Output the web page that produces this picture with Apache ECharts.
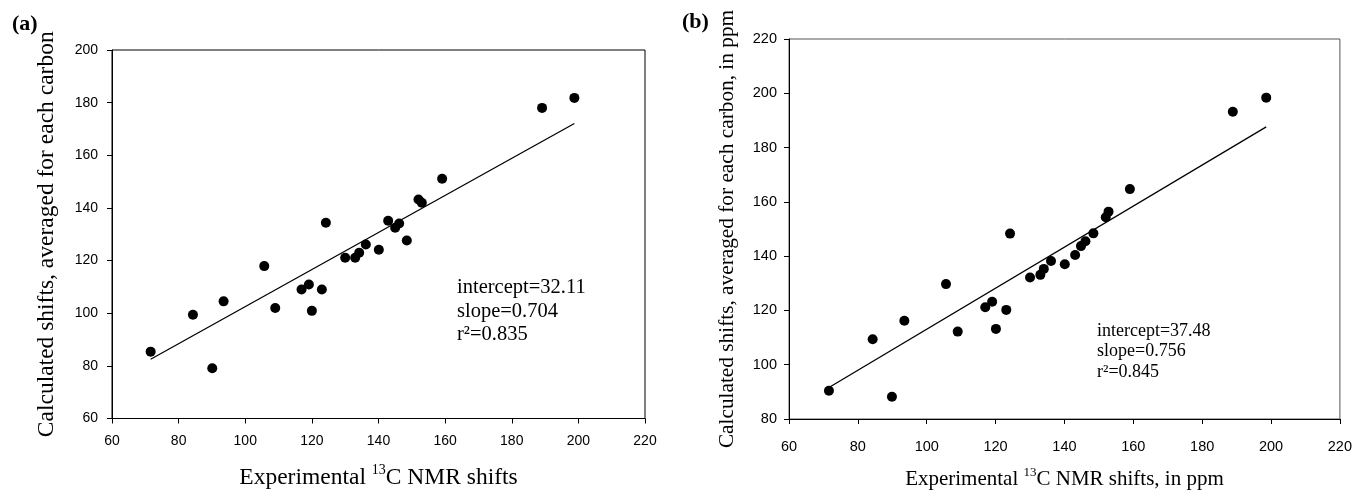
<!DOCTYPE html>
<html>
<head>
<meta charset="utf-8">
<script src="https://cdn.jsdelivr.net/npm/echarts@6/dist/echarts.min.js"></script>
<style>
html,body{margin:0;padding:0;background:#fff;}
#chart{width:1355px;height:495px;}
</style>
</head>
<body>
<div id="chart"></div>
<script>
// ---- data ----
const expA = [71.6, 84.3, 90.1, 93.5, 105.7, 109.0, 116.9, 119.1, 120.0, 123.0, 124.2, 130.0, 133.0, 134.2, 136.2, 140.1, 142.9, 145.0, 146.2, 148.5, 152.0, 153.0, 159.1, 189.1, 198.8];
const calcA = [85.4, 99.4, 79.1, 104.5, 117.9, 102.0, 109.0, 110.9, 100.9, 109.0, 134.4, 121.1, 121.1, 123.0, 126.1, 124.1, 135.1, 132.5, 134.1, 127.6, 143.2, 142.0, 151.1, 178.0, 181.8];
const expB = [71.6, 84.3, 89.9, 93.5, 105.6, 109.0, 117.0, 119.0, 120.1, 123.1, 124.2, 130.0, 133.0, 134.0, 136.1, 140.1, 143.1, 144.8, 146.1, 148.4, 152.0, 152.8, 159.0, 188.9, 198.6];
const calcB = [90.4, 109.4, 88.2, 116.2, 129.7, 112.2, 121.2, 123.2, 113.2, 120.2, 148.3, 132.1, 133.1, 135.3, 138.2, 137.0, 140.4, 143.7, 145.5, 148.4, 154.3, 156.4, 164.7, 193.2, 198.4];
const fitA = {intercept: 32.11, slope: 0.704, r2: 0.835};
const fitB = {intercept: 37.48, slope: 0.756, r2: 0.845};
const xTicks = [60, 80, 100, 120, 140, 160, 180, 200, 220];
const yTicksA = [60, 80, 100, 120, 140, 160, 180, 200];
const yTicksB = [80, 100, 120, 140, 160, 180, 200, 220];

function pairs(xs, ys){ return xs.map((x,i)=>[x, ys[i]]); }
function fitLine(xs, fit){
  const lo = Math.min(...xs), hi = Math.max(...xs);
  return [[lo, fit.intercept + fit.slope*lo],[hi, fit.intercept + fit.slope*hi]];
}

const serif = 'Liberation Serif';
const sans = 'Liberation Sans';

function xAxis(gridIndex, name, gap, fs, sfs, lfs, lm){
  return {
    type:'value', gridIndex, min: xTicks[0], max: xTicks[xTicks.length-1], interval: 20,
    axisLine:{show:true, lineStyle:{color:'#000', width:1}},
    axisTick:{show:true, inside:false, length:5, lineStyle:{color:'#000'}},
    axisLabel:{color:'#000', fontFamily:sans, fontSize:lfs, margin:lm},
    splitLine:{show:false},
    name, nameLocation:'middle', nameGap:gap,
    nameTextStyle:{
      color:'#000',
      rich:{
        t:{fontFamily:serif, fontSize:fs, color:'#000', lineHeight:fs+3, verticalAlign:'bottom'},
        s:{fontFamily:serif, fontSize:sfs, color:'#000', lineHeight:fs+3, verticalAlign:'top'}
      }
    }
  };
}
function yAxis(gridIndex, ticks, name, gap, fs, lfs, lm){
  return {
    type:'value', gridIndex, min: ticks[0], max: ticks[ticks.length-1], interval: 20,
    axisLine:{show:true, lineStyle:{color:'#000', width:1}},
    axisTick:{show:true, inside:false, length:5, lineStyle:{color:'#000'}},
    axisLabel:{color:'#000', fontFamily:sans, fontSize:lfs, margin:lm},
    splitLine:{show:false},
    name, nameLocation:'middle', nameGap:gap,
    nameTextStyle:{color:'#000', fontFamily:serif, fontSize:fs}
  };
}

const chart = echarts.init(document.getElementById('chart'), null, {renderer:'canvas'});
chart.setOption({
  backgroundColor:'#fff',
  animation:false,
  grid:[
    {left:112, top:50, width:533, height:374, show:true, borderColor:'#000', borderWidth:1, backgroundColor:'transparent'},
    {left:789, top:39, width:552, height:387, show:true, borderColor:'#555', borderWidth:1, backgroundColor:'transparent'}
  ],
  xAxis:[
    xAxis(0, '{t|Experimental }{s|13}{t|C NMR shifts}', 45, 23.5, 14, 14, 16),
    xAxis(1, '{t|Experimental }{s|13}{t|C NMR shifts, in ppm}', 47, 21, 13, 14.5, 20)
  ],
  yAxis:[
    yAxis(0, yTicksA, 'Calculated shifts, averaged for each carbon', 53, 23.5, 14, 14),
    yAxis(1, yTicksB, 'Calculated shifts, averaged for each carbon, in ppm', 51, 21.3, 14.5, 12)
  ],
  graphic:[
    {type:'text', left:12, top:13, style:{text:'(a)', font:'bold 22px "Liberation Serif"', fill:'#000'}},
    {type:'text', left:682, top:11, style:{text:'(b)', font:'bold 22px "Liberation Serif"', fill:'#000'}},
    {type:'text', left:457, top:276, style:{
      text:'intercept=' + fitA.intercept.toFixed(2) + '\nslope=' + fitA.slope.toFixed(3) + '\nr\u00b2=' + fitA.r2.toFixed(3),
      font:'20.5px "Liberation Serif"', lineHeight:23.5, fill:'#000'}},
    {type:'text', left:1097, top:321, style:{
      text:'intercept=' + fitB.intercept.toFixed(2) + '\nslope=' + fitB.slope.toFixed(3) + '\nr\u00b2=' + fitB.r2.toFixed(3),
      font:'18px "Liberation Serif"', lineHeight:20.5, fill:'#000'}}
  ],
  series:[
    {type:'scatter', xAxisIndex:0, yAxisIndex:0, data:pairs(expA, calcA), symbol:'circle', symbolSize:10, itemStyle:{color:'#000', opacity:1}},
    {type:'line', xAxisIndex:0, yAxisIndex:0, data:fitLine(expA, fitA), showSymbol:false, symbol:'none', lineStyle:{color:'#000', width:1.3}},
    {type:'scatter', xAxisIndex:1, yAxisIndex:1, data:pairs(expB, calcB), symbol:'circle', symbolSize:10, itemStyle:{color:'#000', opacity:1}},
    {type:'line', xAxisIndex:1, yAxisIndex:1, data:fitLine(expB, fitB), showSymbol:false, symbol:'none', lineStyle:{color:'#000', width:1.3}}
  ]
});
</script>
</body>
</html>
